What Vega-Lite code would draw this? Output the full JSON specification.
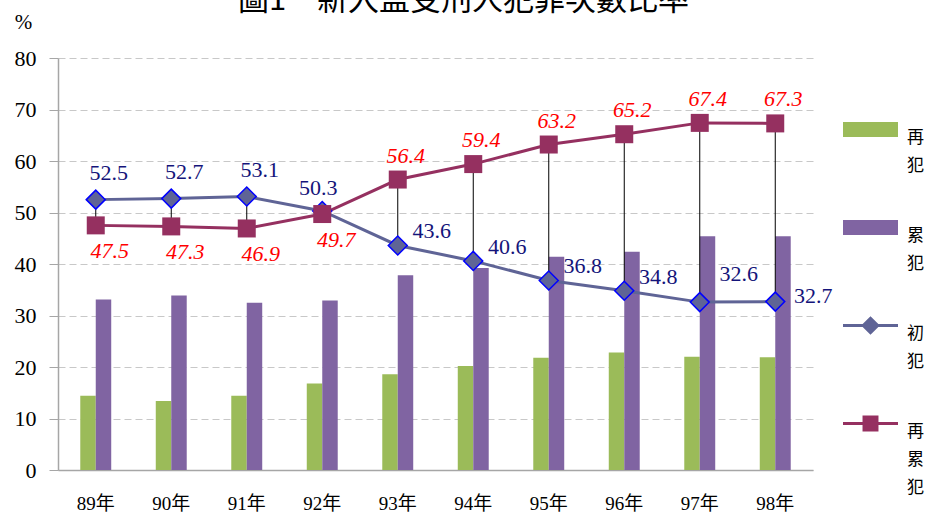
{
  "$schema": "https://vega.github.io/schema/vega-lite/v6.json",
  "width": 755,
  "height": 412,
  "autosize": "none",
  "padding": {"left": 58, "top": 58, "right": 120, "bottom": 49},
  "background": "white",
  "title": {
    "text": "圖1　新入監受刑人犯罪次數比率",
    "font": "Noto Sans CJK TC",
    "fontSize": 31,
    "fontWeight": "normal",
    "color": "black",
    "anchor": "middle",
    "frame": "group",
    "dx": 28,
    "dy": 6,
    "offset": 0
  },
  "config": {
    "view": {"stroke": null},
    "text": {"font": "Liberation Serif", "fontSize": 22},
    "axisY": {
      "titleAngle": 0,
      "titleX": -35,
      "titleY": -36,
      "titleAlign": "center",
      "titleBaseline": "middle",
      "titleFont": "Liberation Serif",
      "titleFontSize": 21,
      "titleFontWeight": "normal",
      "titleColor": "black",
      "values": [0, 10, 20, 30, 40, 50, 60, 70, 80],
      "labelFont": "Liberation Serif",
      "labelFontSize": 22,
      "labelColor": "black",
      "labelPadding": 13,
      "tickSize": 9,
      "tickColor": "#a6a6a6",
      "domainColor": "#a6a6a6",
      "domainWidth": 1.5,
      "grid": true,
      "gridColor": "#c8c8c8",
      "gridDash": [7, 4],
      "gridWidth": 1
    }
  },
  "data": {
    "values": [
      {"year": "89年", "再犯": 14.4, "累犯": 33.1, "初犯": 52.5, "再累犯": 47.5},
      {"year": "90年", "再犯": 13.4, "累犯": 33.9, "初犯": 52.7, "再累犯": 47.3},
      {"year": "91年", "再犯": 14.4, "累犯": 32.5, "初犯": 53.1, "再累犯": 46.9},
      {"year": "92年", "再犯": 16.8, "累犯": 32.9, "初犯": 50.3, "再累犯": 49.7},
      {"year": "93年", "再犯": 18.6, "累犯": 37.8, "初犯": 43.6, "再累犯": 56.4},
      {"year": "94年", "再犯": 20.2, "累犯": 39.2, "初犯": 40.6, "再累犯": 59.4},
      {"year": "95年", "再犯": 21.8, "累犯": 41.4, "初犯": 36.8, "再累犯": 63.2},
      {"year": "96年", "再犯": 22.8, "累犯": 42.4, "初犯": 34.8, "再累犯": 65.2},
      {"year": "97年", "再犯": 22.0, "累犯": 45.4, "初犯": 32.6, "再累犯": 67.4},
      {"year": "98年", "再犯": 21.9, "累犯": 45.4, "初犯": 32.7, "再累犯": 67.3}
    ]
  },
  "encoding": {
    "x": {
      "field": "year",
      "type": "nominal",
      "sort": null,
      "scale": {"paddingInner": 0.59, "paddingOuter": 0.295},
      "axis": {
        "title": null,
        "labelAngle": 0,
        "ticks": false,
        "labelPadding": 24,
        "labelBaseline": "top",
        "labelFont": "Liberation Serif, Noto Sans CJK TC",
        "labelFontSize": 19,
        "labelColor": "black",
        "domainColor": "#a6a6a6",
        "domainWidth": 1.5,
        "grid": false
      }
    }
  },
  "layer": [
    {
      "transform": [{"fold": ["再犯", "累犯"], "as": ["key", "value"]}],
      "mark": {"type": "bar"},
      "encoding": {
        "xOffset": {"field": "key", "sort": ["再犯", "累犯"], "scale": {"paddingInner": 0, "paddingOuter": 0}},
        "y": {
          "field": "value",
          "type": "quantitative",
          "title": "%",
          "scale": {"domain": [0, 80], "nice": false}
        },
        "fill": {
          "field": "key",
          "type": "nominal",
          "scale": {"domain": ["再犯", "累犯", "初犯", "再累犯"], "range": ["#9bbb59", "#8064a2", "#5f6496", "#953060"]},
          "legend": {
            "title": null,
            "orient": "none",
            "legendX": 785,
            "legendY": 44,
            "direction": "vertical",
            "labelExpr": "split(datum.label, '')",
            "labelFont": "Noto Sans CJK TC",
            "labelFontSize": 17,
            "labelColor": "black",
            "labelBaseline": "top",
            "labelOffset": 9,
            "rowPadding": 26,
            "symbolSize": 3025,
            "encode": {
              "symbols": {
                "update": {
                  "shape": {"signal": "datum.value === '初犯' ? 'M-1,-0.055H1V0.055H-1Z M-0.34,0L0,-0.34L0.34,0L0,0.34Z' : datum.value === '再累犯' ? 'M-1,-0.055H1V0.055H-1Z M-0.29,-0.29H0.29V0.29H-0.29Z' : 'M-1,-0.27H1V0.27H-1Z'"},
                  "strokeWidth": {"value": 0},
                  "size": {"value": 3025}
                }
              },
              "labels": {
                "update": {"lineHeight": {"value": 28}}
              }
            }
          }
        }
      }
    },
    {
      "mark": {"type": "rule", "color": "black", "strokeWidth": 1},
      "encoding": {
        "y": {"field": "初犯", "type": "quantitative", "title": "%"},
        "y2": {"field": "再累犯"}
      }
    },
    {
      "transform": [{"fold": ["初犯", "再累犯"], "as": ["key", "value"]}],
      "mark": {"type": "line", "strokeWidth": 3},
      "encoding": {
        "y": {"field": "value", "type": "quantitative", "title": "%"},
        "stroke": {
          "field": "key",
          "type": "nominal",
          "scale": {"domain": ["初犯", "再累犯"], "range": ["#5f6496", "#953060"]},
          "legend": null
        }
      }
    },
    {
      "transform": [{"fold": ["初犯"], "as": ["key", "value"]}],
      "mark": {"type": "point", "shape": "diamond", "filled": true, "size": 361, "stroke": "#0000ff", "strokeWidth": 1.5, "opacity": 1},
      "encoding": {
        "y": {"field": "value", "type": "quantitative", "title": "%"},
        "fill": {"field": "key", "type": "nominal"}
      }
    },
    {
      "transform": [{"fold": ["再累犯"], "as": ["key", "value"]}],
      "mark": {"type": "point", "shape": "square", "filled": true, "size": 324, "opacity": 1},
      "encoding": {
        "y": {"field": "value", "type": "quantitative", "title": "%"},
        "fill": {"field": "key", "type": "nominal"}
      }
    },
    {
      "transform": [{"filter": {"field": "year", "oneOf": ["89年", "90年", "91年"]}}],
      "mark": {"type": "text", "color": "#14147a", "dx": 13, "dy": -27, "align": "center", "baseline": "middle"},
      "encoding": {
        "y": {"field": "初犯", "type": "quantitative", "title": "%"},
        "text": {"field": "初犯", "type": "quantitative", "format": ".1f"}
      }
    },
    {
      "transform": [{"filter": {"field": "year", "oneOf": ["92年"]}}],
      "mark": {"type": "text", "color": "#14147a", "dx": -4, "dy": -23, "align": "center", "baseline": "middle"},
      "encoding": {
        "y": {"field": "初犯", "type": "quantitative", "title": "%"},
        "text": {"field": "初犯", "type": "quantitative", "format": ".1f"}
      }
    },
    {
      "transform": [{"filter": {"field": "year", "oneOf": ["93年", "94年", "95年", "96年"]}}],
      "mark": {"type": "text", "color": "#14147a", "dx": 34, "dy": -14, "align": "center", "baseline": "middle"},
      "encoding": {
        "y": {"field": "初犯", "type": "quantitative", "title": "%"},
        "text": {"field": "初犯", "type": "quantitative", "format": ".1f"}
      }
    },
    {
      "transform": [{"filter": {"field": "year", "oneOf": ["97年"]}}],
      "mark": {"type": "text", "color": "#14147a", "dx": 39, "dy": -28, "align": "center", "baseline": "middle"},
      "encoding": {
        "y": {"field": "初犯", "type": "quantitative", "title": "%"},
        "text": {"field": "初犯", "type": "quantitative", "format": ".1f"}
      }
    },
    {
      "transform": [{"filter": {"field": "year", "oneOf": ["98年"]}}],
      "mark": {"type": "text", "color": "#14147a", "dx": 38, "dy": -6, "align": "center", "baseline": "middle"},
      "encoding": {
        "y": {"field": "初犯", "type": "quantitative", "title": "%"},
        "text": {"field": "初犯", "type": "quantitative", "format": ".1f"}
      }
    },
    {
      "transform": [{"filter": {"field": "year", "oneOf": ["89年", "90年", "91年", "92年"]}}],
      "mark": {"type": "text", "color": "#ff0000", "fontStyle": "italic", "dx": 14, "dy": 26, "align": "center", "baseline": "middle"},
      "encoding": {
        "y": {"field": "再累犯", "type": "quantitative", "title": "%"},
        "text": {"field": "再累犯", "type": "quantitative", "format": ".1f"}
      }
    },
    {
      "transform": [{"filter": {"field": "year", "oneOf": ["93年", "94年", "95年", "96年", "97年", "98年"]}}],
      "mark": {"type": "text", "color": "#ff0000", "fontStyle": "italic", "dx": 8, "dy": -24, "align": "center", "baseline": "middle"},
      "encoding": {
        "y": {"field": "再累犯", "type": "quantitative", "title": "%"},
        "text": {"field": "再累犯", "type": "quantitative", "format": ".1f"}
      }
    }
  ]
}
